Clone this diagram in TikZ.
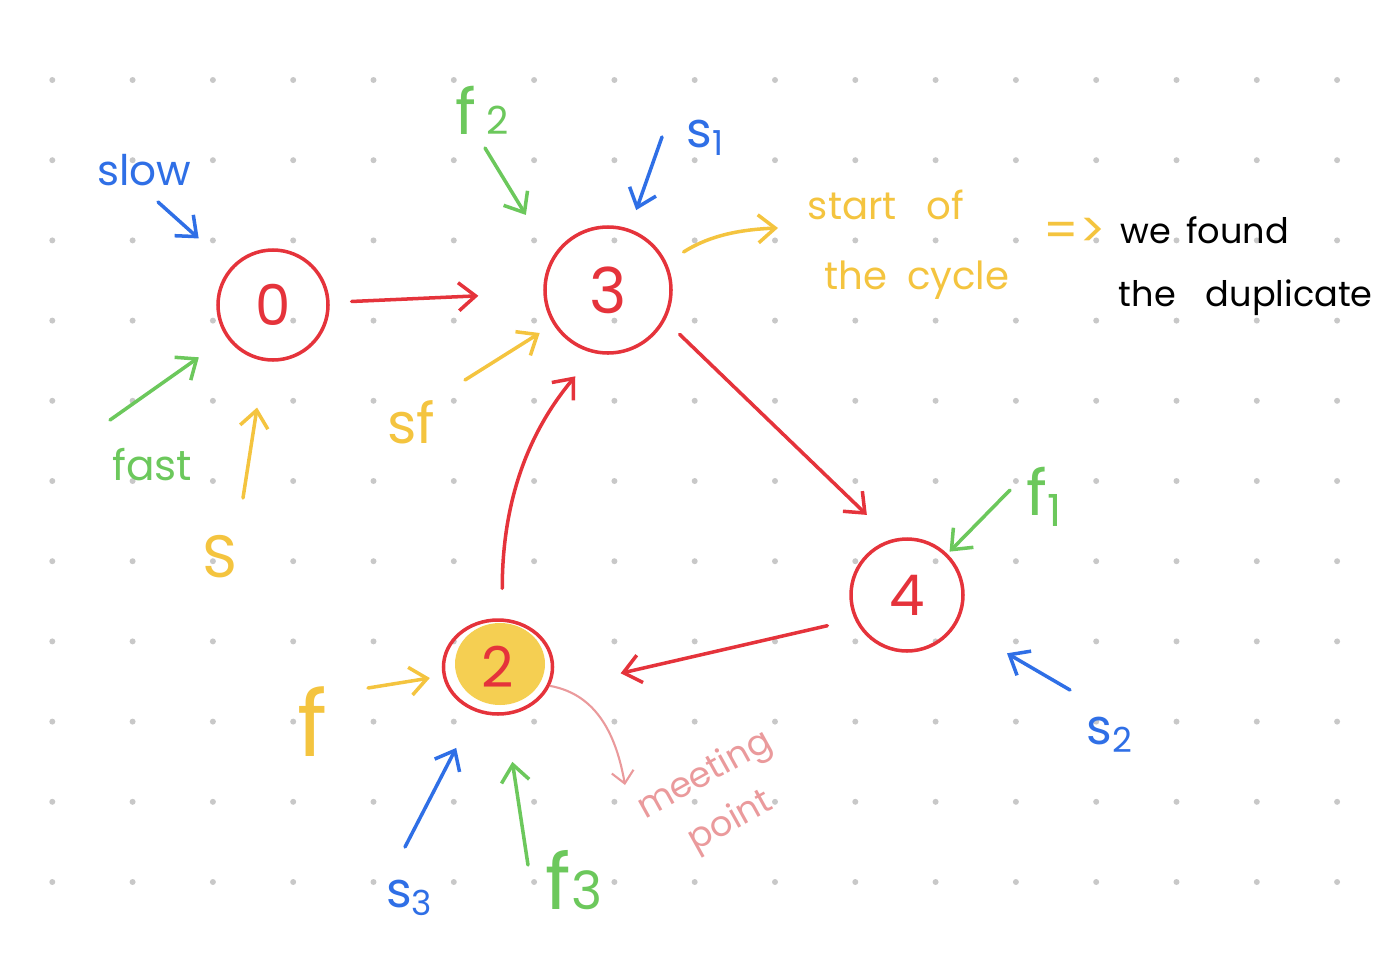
\documentclass[tikz,border=0pt]{standalone}
\usepackage[HTML]{xcolor}
\usepackage{fontspec}
\setmainfont{Poppins}
\usepackage{tikz}
\usetikzlibrary{positioning, arrows.meta, shapes.geometric}

\definecolor{penred}{HTML}{E5333B}
\definecolor{penblue}{HTML}{2F6FE6}
\definecolor{pengreen}{HTML}{6CC85C}
\definecolor{penyellow}{HTML}{F4C43F}
\definecolor{penpink}{HTML}{EA9A9C}
\definecolor{blobyellow}{HTML}{F5CF52}
\definecolor{dotgray}{HTML}{C8C8C8}

\tikzset{
  vertex/.style={circle, draw=penred, line width=1pt, text=penred, inner sep=0pt,
    font=\fontsize{16}{18}\selectfont},
  edge/.style={draw=penred, line width=1pt, line cap=round,
    -{Straight Barb[length=1.7mm,width=2.8mm]}},
  note/.style={inner sep=0pt, font=\fontsize{11}{13}\selectfont},
  pointer/.style={line width=1pt, line cap=round,
    -{Straight Barb[length=1.7mm,width=2.8mm]}},
}

\begin{document}
\begin{tikzpicture}
\useasboundingbox (0,0) rectangle (13.94,9.6);
% dot paper
\foreach \i in {0,...,16}
  \foreach \j in {0,...,10}
    \fill[dotgray] ({0.523+0.803*\i},{8.80-0.802*\j}) circle (0.03);

% list nodes
\node[vertex, minimum size=1.10cm] (n0) at (2.73,6.55) {0};
\node[vertex, minimum size=1.26cm, font=\fontsize{18}{20}\selectfont] (n3) at (6.08,6.70) {3};
\node[vertex, minimum size=1.12cm] (n4) at (9.07,3.65) {4};
\node[vertex, ellipse, minimum width=1.09cm, minimum height=0.94cm,
  path picture={\fill[blobyellow] ([xshift=0.02cm,yshift=0.03cm]path picture bounding box.center) ellipse (0.45 and 0.41);}]
  (n2) at (4.98,2.93) {2};

% next pointers
\draw[edge, shorten <=0.22cm, shorten >=0.65cm] (n0) -- (n3);
\draw[edge, shorten <=0.2cm, shorten >=0.35cm] (n3.-28) -- (n4.105);
\draw[edge, shorten <=0.28cm, shorten >=0.75cm] (n4.205) -- (n2.-25);
\draw[edge, shorten <=0.3cm, shorten >=0.3cm] (n2.85) to[out=90,in=230] (n3.258);

% labels
\node[note, text=penblue, font=\fontsize{12}{14}\selectfont] (slow) at (1.44,7.90) {slow};
\node[note, text=pengreen, font=\fontsize{12}{14}\selectfont] (fast) at (1.52,4.95) {fast};
\node[note, text=penyellow, font=\fontsize{17}{19}\selectfont] (s0) at (2.20,4.03) {S};
\node[note, text=pengreen, font=\fontsize{18}{20}\selectfont] (f2) at (4.82,8.50) {f\,{\fontsize{11}{13}\selectfont 2}};
\node[note, text=penblue, font=\fontsize{14}{16}\selectfont] (s1) at (7.06,8.22) {s\textsubscript{1}};
\node[note, text=penyellow, font=\fontsize{16}{18}\selectfont] (sf) at (4.11,5.38) {sf};
\node[note, text=penyellow] (start1) at (8.86,7.55) {start\hspace{0.3cm}of};
\node[note, text=penyellow] (start2) at (9.17,6.80) {the\hspace{0.2cm}cycle};
\node[note, text=penyellow, font=\fontsize{14}{16}\selectfont] (implies) at (10.75,7.27) {=>};
\node[note, anchor=west, font=\fontsize{10}{12}\selectfont] (found1) at (11.20,7.30) {we\hspace{0.15cm}found};
\node[note, anchor=west, font=\fontsize{10}{12}\selectfont] (found2) at (11.18,6.62) {the\hspace{0.3cm}duplicate};
\node[note, text=pengreen, font=\fontsize{18}{20}\selectfont] (f1) at (10.45,4.63) {f\textsubscript{1}};
\node[note, text=penblue, font=\fontsize{14}{16}\selectfont] (s2) at (11.10,2.25) {s\textsubscript{2}};
\node[note, text=penyellow, font=\fontsize{26}{28}\selectfont] (f0) at (3.13,2.38) {f};
\node[note, text=penblue, font=\fontsize{14}{16}\selectfont] (s3) at (4.10,0.62) {s\textsubscript{3}};
\node[note, text=pengreen, font=\fontsize{22}{24}\selectfont] (f3) at (5.74,0.80) {f{\fontsize{15}{17}\selectfont 3}};
\node[note, text=penpink, rotate=29, align=center, font=\fontsize{10}{14}\selectfont]
  (meet) at (7.18,1.61) {meeting\\[1pt]point};

% free ends
\coordinate (slowtail) at (1.58,7.58);
\coordinate (fasttail) at (1.10,5.40);
\coordinate (stail) at (2.43,4.62);
\coordinate (f2tail) at (4.85,8.12);
\coordinate (s1tail) at (6.62,8.23);
\coordinate (sftail) at (4.65,5.80);
\coordinate (cycletip) at (7.78,7.32);
\coordinate (f1tail) at (10.10,4.70);
\coordinate (s2tail) at (10.70,2.70);
\coordinate (ftail) at (3.68,2.72);
\coordinate (s3tail) at (4.05,1.13);
\coordinate (f3tail) at (5.28,0.95);
\coordinate (meettip) at (6.25,1.75);

% pointer arrows
\draw[pointer, penblue, shorten >=0.43cm] (slowtail) -- (n0);
\draw[pointer, pengreen, shorten >=0.34cm] (fasttail) -- (n0);
\draw[pointer, penyellow, shorten >=0.47cm] (stail) -- (n0);
\draw[pointer, pengreen, shorten >=0.5cm] (f2tail) -- (n3.150);
\draw[pointer, penblue, shorten >=0.2cm] (s1tail) -- (n3);
\draw[pointer, penyellow, shorten >=0.16cm] (sftail) -- (n3);
\draw[pointer, penyellow, shorten <=0.2cm] (n3.25) to[bend left=15] (cycletip);
\draw[pointer, pengreen, shorten >=0.03cm] (f1tail) -- (n4);
\draw[pointer, penblue, shorten >=0.58cm] (s2tail) -- (n4);
\draw[pointer, penyellow, shorten >=0.13cm] (ftail) -- (n2);
\draw[pointer, penblue, shorten >=0.41cm] (s3tail) -- (n2);
\draw[pointer, pengreen, shorten >=0.47cm] (f3tail) -- (n2);
\draw[penpink, line width=0.6pt, -{Straight Barb[length=1.2mm,width=2.2mm]}]
  (n2.-20) to[out=-10,in=100] (meettip);
\end{tikzpicture}
\end{document}
